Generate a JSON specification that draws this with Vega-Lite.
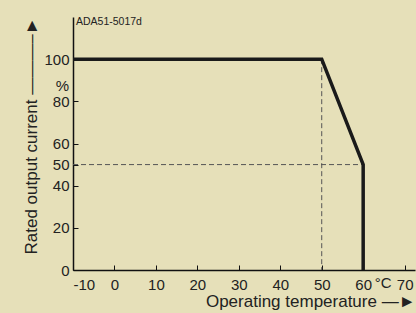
{
  "$schema": "https://vega.github.io/schema/vega-lite/v6.json",
  "width": 342,
  "height": 253,
  "autosize": {"type": "none"},
  "padding": {"left": 73, "top": 17, "right": 1, "bottom": 43},
  "background": "#e6e0b9",
  "config": {
    "view": {"stroke": null},
    "font": "Liberation Sans",
    "axis": {
      "grid": false,
      "domainColor": "#111111",
      "domainWidth": 1.5,
      "tickColor": "#111111",
      "tickWidth": 1,
      "tickSize": -5,
      "labelFont": "Liberation Sans",
      "labelFontSize": 15,
      "labelColor": "#222222",
      "titleFont": "Liberation Sans",
      "titleFontSize": 17,
      "titleFontWeight": "normal",
      "titleColor": "#222222"
    }
  },
  "layer": [
    {
      "data": {"values": [
        {"t": 50, "c": 100, "s": "v"}, {"t": 50, "c": 0, "s": "v"},
        {"t": -10, "c": 50, "s": "h"}, {"t": 60, "c": 50, "s": "h"}
      ]},
      "mark": {"type": "line", "strokeDash": [5, 3], "strokeWidth": 1, "color": "#555555"},
      "encoding": {
        "x": {"field": "t", "type": "quantitative",
          "scale": {"domain": [-10, 72.5], "nice": false, "zero": false},
          "axis": {"values": [-10, 0, 10, 20, 30, 40, 50, 60, 70], "labelExpr": "'' + datum.value", "title": "Operating temperature —►", "titleAnchor": "end", "labelPadding": 12, "labelOverlap": false, "titlePadding": 1}},
        "y": {"field": "c", "type": "quantitative",
          "scale": {"domain": [0, 120], "nice": false},
          "axis": {"values": [0, 20, 40, 50, 60, 80, 100], "title": "Rated output current ———–►", "titleAnchor": "end", "labelPadding": 9, "labelOverlap": false, "titlePadding": 3}},
        "detail": {"field": "s"}
      }
    },
    {
      "data": {"values": [
        {"i": 1, "t": -10, "c": 100}, {"i": 2, "t": 50, "c": 100},
        {"i": 3, "t": 60, "c": 50}, {"i": 4, "t": 60, "c": 0}
      ]},
      "mark": {"type": "line", "strokeWidth": 3.5, "color": "#1a1a1a", "strokeJoin": "miter"},
      "encoding": {
        "x": {"field": "t", "type": "quantitative"},
        "y": {"field": "c", "type": "quantitative"},
        "order": {"field": "i"}
      }
    },
    {
      "data": {"values": [
        {"txt": "%", "t": -10, "c": 87.5}
      ]},
      "mark": {"type": "text", "align": "right", "baseline": "middle", "dx": -4, "fontSize": 15, "color": "#222222", "clip": false},
      "encoding": {
        "x": {"field": "t", "type": "quantitative"},
        "y": {"field": "c", "type": "quantitative"},
        "text": {"field": "txt"}
      }
    },
    {
      "data": {"values": [
        {"txt": "°C", "t": 64.8, "c": -6.2}
      ]},
      "mark": {"type": "text", "align": "center", "baseline": "middle", "fontSize": 15, "color": "#222222", "clip": false},
      "encoding": {
        "x": {"field": "t", "type": "quantitative"},
        "y": {"field": "c", "type": "quantitative"},
        "text": {"field": "txt"}
      }
    },
    {
      "data": {"values": [
        {"txt": "ADA51-5017d", "t": -10, "c": 117.6}
      ]},
      "mark": {"type": "text", "align": "left", "baseline": "middle", "dx": 3, "fontSize": 10.5, "color": "#222222", "clip": false},
      "encoding": {
        "x": {"field": "t", "type": "quantitative"},
        "y": {"field": "c", "type": "quantitative"},
        "text": {"field": "txt"}
      }
    }
  ]
}
